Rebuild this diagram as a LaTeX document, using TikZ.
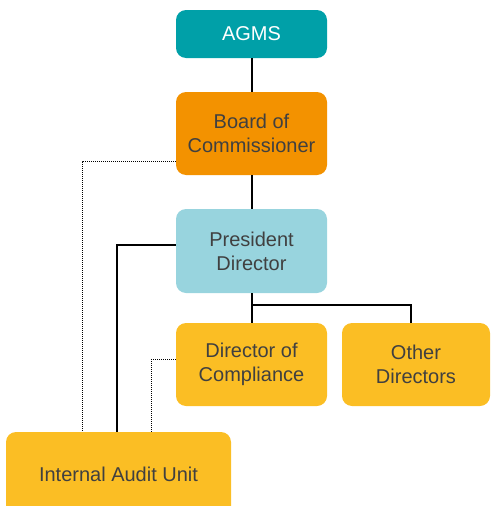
\documentclass[tikz,border=0pt]{standalone}
\usepackage{fontspec}
\setmainfont{Liberation Sans}
\definecolor{agmsTeal}{HTML}{00A0A8}
\definecolor{boardOrange}{HTML}{F39200}
\definecolor{presBlue}{HTML}{98D4DE}
\definecolor{dirYellow}{HTML}{FBBE24}
\definecolor{textGrey}{HTML}{404040}
\usetikzlibrary{calc, positioning}

\tikzset{
  orgbox/.style={rounded corners=10pt, inner sep=4pt, align=center,
                 text=textGrey, font=\fontsize{20}{24}\selectfont,
                 minimum width=151pt, minimum height=83pt},
  reportline/.style={line width=2pt, black},
  auditline/.style={line width=0.8pt, black, dash pattern=on 1pt off 1pt}
}

\begin{document}
\begin{tikzpicture}[x=1pt, y=-1pt]
      \useasboundingbox (0,0) rectangle (490,506);
      \node[orgbox, fill=agmsTeal, text=white, minimum height=48pt] (agms) at (251.5,34) {AGMS};
      \node[orgbox, fill=boardOrange] (board) at (251.5,133.5) {Board of\\Commissioner};
      \node[orgbox, fill=presBlue, minimum height=84pt] (president) at (251.5,251) {President\\Director};
      \node[orgbox, fill=dirYellow] (compliance) at (251.5,364.5) {Director of\\Compliance};
      \node[orgbox, fill=dirYellow, minimum width=148pt] (other) at (416,364.5) {Other\\Directors};
      \node[orgbox, fill=dirYellow, minimum width=225pt, minimum height=84pt] (audit) at (118.5,474) {Internal Audit Unit};

      % main reporting lines
      \draw[reportline] (agms) -- (board);
      \draw[reportline] (board) -- (president);
      \draw[reportline] (president) -- (compliance);
      \draw[reportline] (president.south) -- ++(0,12) -| ([xshift=-5pt]other.north);
      \draw[reportline] ([yshift=6pt]president.west) -| ([xshift=111pt]audit.north west);
      % supervisory lines
      \draw[auditline] ([yshift=-27.5pt]board.west) -| ([xshift=77pt]audit.north west);
      \draw[auditline] ([yshift=5.5pt]compliance.west) -| ([xshift=146pt]audit.north west);
    \end{tikzpicture}
\end{document}
